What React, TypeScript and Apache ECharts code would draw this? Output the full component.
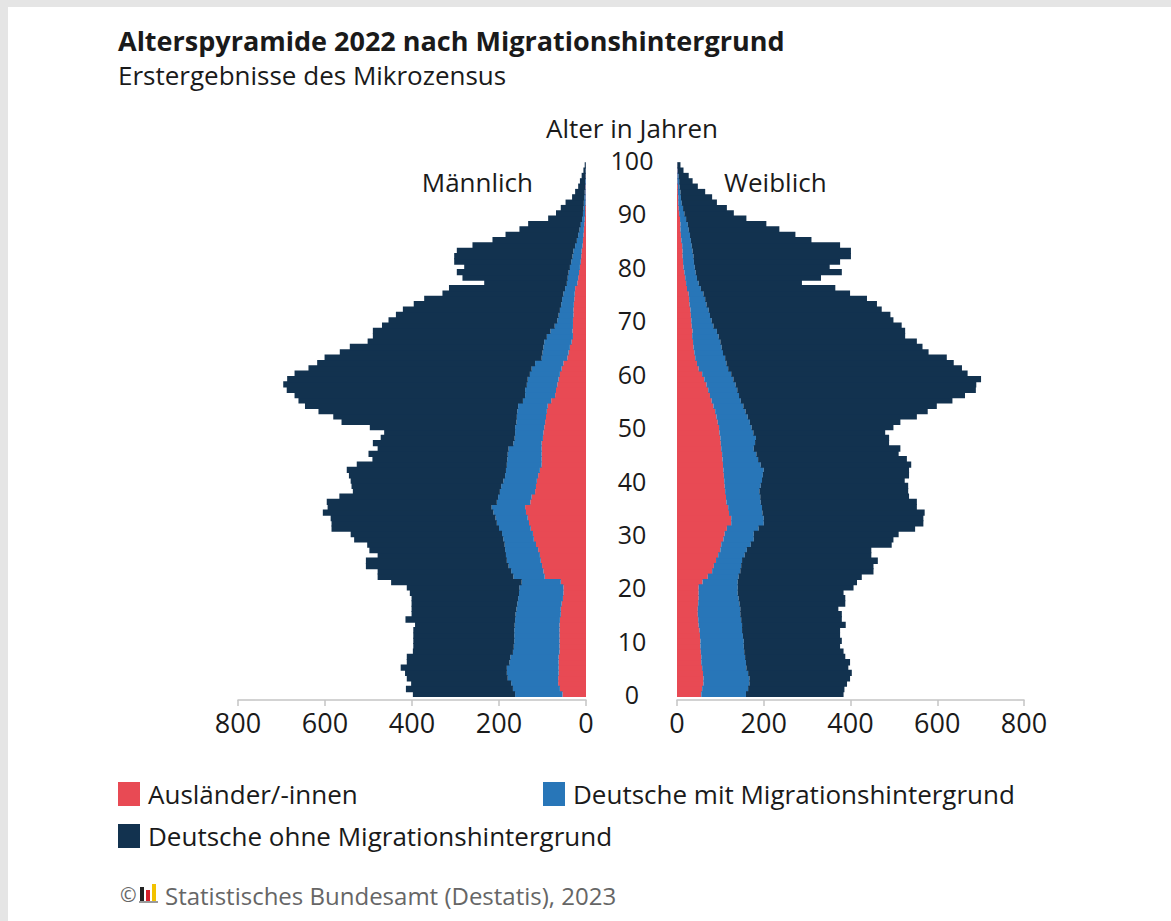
import React, { useEffect, useRef } from "react";
import * as echarts from "echarts";

// Age categories 0..100
const ages: string[] = [
  "0","1","2","3","4","5","6","7","8","9","10","11","12","13","14","15","16","17","18","19",
  "20","21","22","23","24","25","26","27","28","29","30","31","32","33","34","35","36","37","38","39",
  "40","41","42","43","44","45","46","47","48","49","50","51","52","53","54","55","56","57","58","59",
  "60","61","62","63","64","65","66","67","68","69","70","71","72","73","74","75","76","77","78","79",
  "80","81","82","83","84","85","86","87","88","89","90","91","92","93","94","95","96","97","98","99","100",
];

const xTicks = [0, 200, 400, 600, 800];

const SERIES_A = "Ausländer/-innen";
const SERIES_B = "Deutsche mit Migrationshintergrund";
const SERIES_C = "Deutsche ohne Migrationshintergrund";

// Male, in thousands
const maleForeign: number[] = [
  54,60,64,64,63,63,63,63,61,61, 61,61,61,61,60,58,58,56,53,52,
  52,58,95,98,101,104,106,110,115,120, 122,127,131,134,138,140,128,125,117,115,
  113,110,106,102,102,102,102,102,99,98, 96,94,92,90,88,80,71,69,66,63,
  60,56,52,43,40,37,33,30,31,30, 30,29,29,28,27,26,25,20,18,16,
  14,12,11,10,8,7,6,5,4,3, 2,2,1,1,1,1,0.5,0.5,0.3,0.2, 0,
];
const maleMigDE: number[] = [
  109,108,108,116,119,119,113,111,107,105, 104,104,104,103,103,104,102,102,103,102,
  101,90,72,74,77,78,78,76,72,70, 71,73,74,74,75,77,77,77,81,80,
  77,76,78,80,79,78,76,65,65,65, 67,66,67,68,68,65,69,71,70,71,
  69,69,65,59,60,61,63,60,51,42, 36,34,31,29,28,26,23,24,24,24,
  23,22,20,19,17,14,12,10,8,6, 5,4,4,3,2,1,1.5,0.5,0.7,0.3, 0,
];
const maleNoMig: number[] = [
  235,246,230,232,234,244,236,238,230,231, 232,232,232,229,252,239,241,243,245,251,
  259,300,312,307,328,324,295,312,316,343, 348,385,380,379,392,377,391,365,338,344,
  351,359,366,345,310,320,301,323,308,301, 334,402,422,457,490,516,530,548,560,553,
  541,513,501,499,466,445,406,400,408,397, 388,374,361,339,317,278,267,190,242,257,
  243,269,272,268,236,194,167,138,121,78, 62,52,42,28,22,16,12,9,5,2.5, 0,
];

// Female, in thousands
const femaleForeign: number[] = [
  56,58,61,61,60,58,56,56,55,54, 54,53,52,50,49,48,48,49,50,50,
  50,59,71,81,85,90,95,100,102,107, 110,115,125,125,120,118,114,113,111,110,
  109,108,107,106,105,104,102,101,100,98, 97,94,91,88,84,80,76,72,68,63,
  58,50,46,42,40,38,37,35,36,34, 33,32,31,29,28,27,23,21,19,17,
  15,14,13,13,12,10,9,8,8,7, 5,4,3,3,2,2,1,1,1,0.5, 0,
];
const femaleMigDE: number[] = [
  103,106,106,106,104,102,103,101,100,100, 100,99,98,100,99,98,98,95,92,90,
  90,81,71,65,63,60,61,61,68,70, 67,73,75,75,77,78,79,79,79,83,
  87,90,93,87,82,79,75,79,82,78, 75,74,72,70,69,67,67,67,67,67,
  67,68,68,69,66,65,63,61,56,50, 47,44,42,39,37,34,32,29,27,26,
  26,25,25,23,22,22,21,19,17,14, 12,10,8,6,6,4,4,3,1,0.5, 0,
];
const femaleNoMig: number[] = [
  225,222,225,232,239,235,240,231,229,222, 226,224,226,239,232,234,226,244,246,244,
  267,275,284,307,305,313,292,287,325,322, 334,361,368,368,374,357,360,343,343,340,
  329,337,335,347,343,328,338,309,307,304, 327,347,390,420,446,488,521,550,555,571,
  545,539,524,511,474,463,453,430,434,434, 419,416,399,393,373,338,310,238,286,337,
  311,337,363,365,342,278,243,209,181,139, 114,101,81,72,57,42,31,23,13,7, 0,
];

const RED = "#E84A54";
const BLUE = "#2876B8";
const NAVY = "#12324F";
const TEXT = "#1a1a1a";
const FONT = "'Open Sans', 'Noto Sans', sans-serif";

export default function App() {
  const ref = useRef<HTMLDivElement>(null);

  useEffect(() => {
    document.body.style.margin = "0";
    const chart = echarts.init(ref.current!, null, { renderer: "svg" });

    const gridTop = 157.3;
    const gridHeight = 539.7;

    const barBase = {
      type: "bar" as const,
      barWidth: 6.3,
      barGap: "-100%",
      silent: true,
    };
    const fill = (c: string) => ({ color: c });

    const xAxisCommon = {
      type: "value" as const,
      min: 0,
      max: 800,
      interval: 200,
      offset: 3,
      splitLine: { show: false },
      axisLine: { show: true, lineStyle: { color: "#c4c4c4", width: 1.5 } },
      axisTick: { show: true, length: 6, lineStyle: { color: "#c4c4c4", width: 1.5 } },
      axisLabel: {
        show: true,
        fontSize: 27,
        color: TEXT,
        fontFamily: FONT,
        margin: 9,
        customValues: xTicks,
      },
    };

    const option: any = {
      animation: false,
      backgroundColor: "#ffffff",
      grid: [
        { left: 238, width: 348, top: gridTop, height: gridHeight },
        { left: 677, width: 347, top: gridTop, height: gridHeight },
      ],
      xAxis: [
        { ...xAxisCommon, gridIndex: 0, inverse: true },
        { ...xAxisCommon, gridIndex: 1 },
      ],
      yAxis: [
        {
          type: "category",
          gridIndex: 0,
          data: ages,
          show: false,
        },
        {
          type: "category",
          gridIndex: 1,
          data: ages,
          position: "left",
          axisLine: { show: false },
          axisTick: { show: false },
          axisLabel: {
            show: true,
            interval: 9,
            margin: 45,
            align: "center",
            fontSize: 25,
            color: TEXT,
            fontFamily: FONT,
          },
        },
      ],
      legend: [
        { data: [SERIES_A], left: 118, top: 781 },
        { data: [SERIES_B], left: 543, top: 781 },
        { data: [SERIES_C], left: 118, top: 823 },
      ].map((l) => ({
        ...l,
        orient: "horizontal",
        padding: 0,
        itemWidth: 22,
        itemHeight: 24,
        icon: "rect",
        selectedMode: false,
        textStyle: {
          fontSize: 26,
          color: TEXT,
          fontFamily: FONT,
          lineHeight: 24,
          padding: [0, 0, 0, 3],
        },
      })),
      series: [
        { ...barBase, name: SERIES_A, stack: "m", xAxisIndex: 0, yAxisIndex: 0, data: maleForeign, itemStyle: fill(RED) },
        { ...barBase, name: SERIES_B, stack: "m", xAxisIndex: 0, yAxisIndex: 0, data: maleMigDE, itemStyle: fill(BLUE) },
        { ...barBase, name: SERIES_C, stack: "m", xAxisIndex: 0, yAxisIndex: 0, data: maleNoMig, itemStyle: fill(NAVY) },
        { ...barBase, name: SERIES_A, stack: "f", xAxisIndex: 1, yAxisIndex: 1, data: femaleForeign, itemStyle: fill(RED) },
        { ...barBase, name: SERIES_B, stack: "f", xAxisIndex: 1, yAxisIndex: 1, data: femaleMigDE, itemStyle: fill(BLUE) },
        { ...barBase, name: SERIES_C, stack: "f", xAxisIndex: 1, yAxisIndex: 1, data: femaleNoMig, itemStyle: fill(NAVY) },
      ],
      graphic: [
        // light frame
        { type: "rect", shape: { x: 0, y: 0, width: 1171, height: 7 }, style: { fill: "#e5e5e5" }, silent: true },
        { type: "rect", shape: { x: 0, y: 0, width: 8, height: 921 }, style: { fill: "#e5e5e5" }, silent: true },
        {
          type: "text",
          x: 118,
          y: 40,
          style: {
            text: "Alterspyramide 2022 nach Migrationshintergrund",
            font: `bold 27px ${FONT}`,
            fill: TEXT,
            textAlign: "left",
            textVerticalAlign: "middle",
          },
        },
        {
          type: "text",
          x: 118,
          y: 75,
          style: {
            text: "Erstergebnisse des Mikrozensus",
            font: `26px ${FONT}`,
            fill: TEXT,
            textAlign: "left",
            textVerticalAlign: "middle",
          },
        },
        {
          type: "text",
          x: 632,
          y: 128,
          style: {
            text: "Alter in Jahren",
            font: `26px ${FONT}`,
            fill: TEXT,
            textAlign: "center",
            textVerticalAlign: "middle",
          },
        },
        {
          type: "text",
          x: 533,
          y: 182,
          style: {
            text: "Männlich",
            font: `26px ${FONT}`,
            fill: TEXT,
            textAlign: "right",
            textVerticalAlign: "middle",
          },
        },
        {
          type: "text",
          x: 724,
          y: 182,
          style: {
            text: "Weiblich",
            font: `26px ${FONT}`,
            fill: TEXT,
            textAlign: "left",
            textVerticalAlign: "middle",
          },
        },
        // footer
        {
          type: "text",
          x: 120,
          y: 894,
          style: {
            text: "©",
            font: `20px ${FONT}`,
            fill: "#666666",
            textAlign: "left",
            textVerticalAlign: "middle",
          },
        },
        { type: "rect", shape: { x: 140, y: 887, width: 4, height: 14 }, style: { fill: "#222222" } },
        { type: "rect", shape: { x: 146, y: 890, width: 4, height: 11 }, style: { fill: "#d6202a" } },
        { type: "rect", shape: { x: 152, y: 884, width: 4, height: 17 }, style: { fill: "#f2c200" } },
        { type: "rect", shape: { x: 139, y: 901, width: 19, height: 2 }, style: { fill: "#9a9a9a" } },
        {
          type: "text",
          x: 165,
          y: 895,
          style: {
            text: "Statistisches Bundesamt (Destatis), 2023",
            font: `24px ${FONT}`,
            fill: "#666666",
            textAlign: "left",
            textVerticalAlign: "middle",
          },
        },
      ],
    };

    chart.setOption(option);
    return () => chart.dispose();
  }, []);

  return (
    <div
      ref={ref}
      style={{ position: "fixed", left: 0, top: 0, width: 1171, height: 921 }}
    />
  );
}
